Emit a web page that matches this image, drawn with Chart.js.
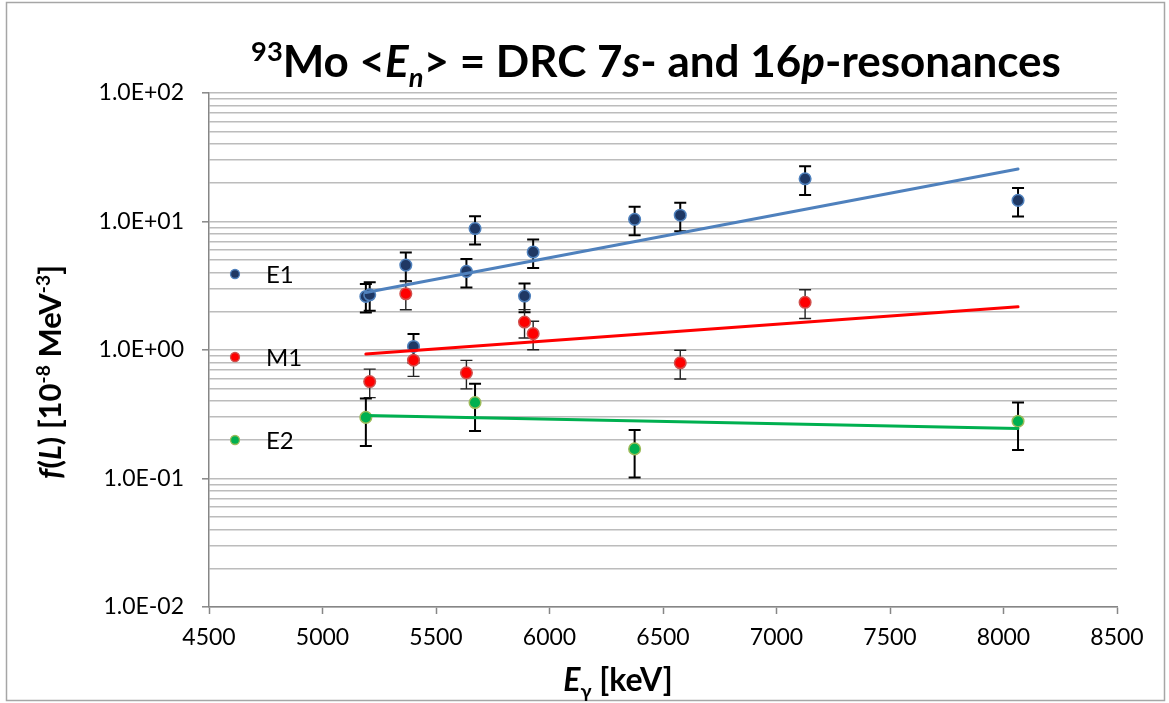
<!DOCTYPE html>
<html>
<head>
<meta charset="utf-8">
<script src="https://cdn.jsdelivr.net/npm/chart.js@4.4.1/dist/chart.umd.min.js"></script>
<style>
  html, body { margin: 0; padding: 0; background: #fff; overflow: hidden; }
  #wrap { position: relative; width: 1169px; height: 703px; }
</style>
</head>
<body>
<div id="wrap"><canvas id="c" width="1169" height="703"></canvas></div>
<script>
const FONT = 'Lato, "Open Sans", "DejaVu Sans", sans-serif';

// Strengths f(L) in 10^-8 MeV^-3 with absolute uncertainties, per multipolarity
const e1Energy   = [5191, 5208, 5367, 5401, 5634, 5672, 5890, 5928, 6375, 6576, 7126, 8064];
const e1Strength = [2.61, 2.69, 4.58, 1.065, 4.09, 8.81, 2.63, 5.79, 10.4, 11.2, 21.5, 14.6];
const e1Error    = [0.65, 0.67, 1.15, 0.27, 1.02, 2.2, 0.66, 1.45, 2.6, 2.8, 5.4, 3.65];

const m1Energy   = [5208, 5367, 5401, 5634, 5890, 5928, 6576, 7126];
const m1Strength = [0.568, 2.74, 0.833, 0.664, 1.65, 1.34, 0.795, 2.35];
const m1Error    = [0.142, 0.685, 0.21, 0.166, 0.41, 0.335, 0.2, 0.59];

const e2Energy   = [5191, 5672, 6375, 8064];
const e2Strength = [0.299, 0.39, 0.170, 0.279];
const e2Error    = [0.12, 0.156, 0.068, 0.112];

// Exponential trend lines (straight on the log axis): end points
const trendEnergy = [5191, 8064];
const e1Trend = [2.8, 25.6];
const m1Trend = [0.93, 2.17];
const e2Trend = [0.309, 0.245];

// Axis ticks
const xTicks = [4500, 5000, 5500, 6000, 6500, 7000, 7500, 8000, 8500];
const yDecades = [0.01, 0.1, 1, 10, 100];
const yDecadeLabels = ['1.0E-02', '1.0E-01', '1.0E+00', '1.0E+01', '1.0E+02'];
const yMinorSteps = [2, 3, 4, 5, 6, 7, 8, 9];

// Gridline values: every decade plus 2..9 within each decade
const yGrid = [];
yDecades.forEach((d, i) => {
  yGrid.push(d);
  if (i < yDecades.length - 1) yMinorSteps.forEach(m => yGrid.push(+(d * m).toPrecision(6)));
});
const decadeIndex = v => yDecades.findIndex(d => Math.abs(d - v) < d * 1e-9);

const pts = (xs, ys) => xs.map((x, i) => ({ x, y: ys[i] }));

// Vertical error bars with caps, drawn beneath the markers
const errorBars = {
  id: 'errorBars',
  beforeDatasetsDraw(chart) {
    const { ctx, scales: { x, y } } = chart;
    chart.data.datasets.forEach(ds => {
      if (!ds.errors) return;
      ctx.save();
      ctx.strokeStyle = ds.errorColor;
      ctx.lineWidth = ds.errorWidth;
      ds.data.forEach((p, j) => {
        const px = x.getPixelForValue(p.x);
        const top = y.getPixelForValue(p.y + ds.errors[j]);
        const bot = y.getPixelForValue(p.y - ds.errors[j]);
        ctx.beginPath();
        ctx.moveTo(px, top); ctx.lineTo(px, bot);
        ctx.moveTo(px - 6, top); ctx.lineTo(px + 6, top);
        ctx.moveTo(px - 6, bot); ctx.lineTo(px + 6, bot);
        ctx.stroke();
      });
      ctx.restore();
    });
  }
};

// Mixed-style bold text: italic runs, superscripts and subscripts
function drawRich(ctx, runs, size, cx, baseline, maxW) {
  const fontOf = r => `${r.i ? 'italic ' : ''}bold ${(r.sup || r.sub) ? size * 0.62 : size}px ${FONT}`;
  let w = 0;
  runs.forEach(r => { ctx.font = fontOf(r); r.w = ctx.measureText(r.t).width; w += r.w; });
  const sx = maxW && w > maxW ? maxW / w : 1;
  ctx.save();
  ctx.translate(cx, baseline);
  ctx.scale(sx, 1);
  ctx.textBaseline = 'alphabetic';
  ctx.textAlign = 'left';
  ctx.fillStyle = '#000';
  let x = -w / 2;
  runs.forEach(r => {
    ctx.font = fontOf(r);
    const dy = r.sup ? -size * 0.36 : r.sub ? size * 0.22 : 0;
    ctx.fillText(r.t, x, dy);
    x += r.w;
  });
  ctx.restore();
}

const titleRuns = [
  { t: '93', sup: true }, { t: 'Mo <' }, { t: 'E', i: true }, { t: 'n', i: true, sub: true },
  { t: '> = DRC 7' }, { t: 's', i: true }, { t: '- and 16' }, { t: 'p', i: true }, { t: '-resonances' }
];
const yTitleRuns = [
  { t: 'f', i: true }, { t: '(' }, { t: 'L', i: true }, { t: ') [10' }, { t: '-8', sup: true },
  { t: ' MeV' }, { t: '-3', sup: true }, { t: ']' }
];
const xTitleRuns = [{ t: 'E', i: true }, { t: 'γ', sub: true }, { t: ' [keV]' }];

const decorations = {
  id: 'decorations',
  afterDraw(chart) {
    const ctx = chart.ctx;
    // chart frame
    ctx.save();
    ctx.strokeStyle = '#A6A6A6';
    ctx.lineWidth = 1.5;
    ctx.strokeRect(6.5, 2.5, 1158, 698);
    ctx.restore();

    // titles
    drawRich(ctx, titleRuns, 44, 656, 77, 810);
    drawRich(ctx, xTitleRuns, 32, 618, 691);
    ctx.save();
    ctx.translate(50, 372);
    ctx.rotate(-Math.PI / 2);
    drawRich(ctx, yTitleRuns, 31, 0, 11, 240);
    ctx.restore();

    // legend for the measured series
    const legendY = [274, 357, 440];
    let k = 0;
    chart.data.datasets.forEach(ds => {
      if (ds.isTrend) return;
      const yy = legendY[k++];
      ctx.save();
      ctx.beginPath();
      ctx.arc(235, yy, 4.5, 0, Math.PI * 2);
      ctx.fillStyle = ds.backgroundColor;
      ctx.fill();
      ctx.lineWidth = 1.3;
      ctx.strokeStyle = ds.borderColor;
      ctx.stroke();
      ctx.font = `24px ${FONT}`;
      ctx.fillStyle = '#000';
      ctx.textBaseline = 'middle';
      ctx.textAlign = 'left';
      ctx.fillText(ds.label, 266, yy + 1);
      ctx.restore();
    });
  }
};

const marker = (label, xs, ys, errs, fill, border, errColor, errWidth, order) => ({
  label, data: pts(xs, ys), errors: errs, errorColor: errColor, errorWidth: errWidth,
  backgroundColor: fill, borderColor: border, borderWidth: 1.5,
  pointRadius: 5.8, pointHoverRadius: 5.8, showLine: false, order
});
const trend = (label, ys, color, order) => ({
  label, data: pts(trendEnergy, ys), isTrend: true, showLine: true,
  borderColor: color, borderWidth: 3, borderCapStyle: 'round',
  pointRadius: 0, pointHoverRadius: 0, fill: false, order
});

new Chart(document.getElementById('c'), {
  type: 'scatter',
  data: {
    datasets: [
      marker('E1', e1Energy, e1Strength, e1Error, '#1F3864', '#4F81BD', '#000', 2, 5),
      marker('M1', m1Energy, m1Strength, m1Error, '#FF0000', '#D0504D', '#222', 1.4, 4),
      marker('E2', e2Energy, e2Strength, e2Error, '#00B050', '#9BBB59', '#000', 2, 3),
      trend('E1 fit', e1Trend, '#4F81BD', 2),
      trend('M1 fit', m1Trend, '#FF0000', 1),
      trend('E2 fit', e2Trend, '#00B050', 0)
    ]
  },
  options: {
    responsive: false,
    animation: false,
    devicePixelRatio: 1,
    layout: { padding: { top: 93, right: 52, bottom: 0, left: 0 } },
    plugins: { legend: { display: false }, title: { display: false }, tooltip: { enabled: false } },
    scales: {
      x: {
        type: 'linear', min: 4500, max: 8500,
        afterBuildTicks: s => { s.ticks = xTicks.map(v => ({ value: v })); },
        afterFit: s => { s.height = 96; },
        grid: { drawOnChartArea: false, drawTicks: true, tickLength: 7, tickColor: '#868686', tickWidth: 1.5 },
        border: { color: '#868686', width: 1.5 },
        ticks: {
          font: { family: FONT, size: 23 }, color: '#000', padding: 10, maxRotation: 0, autoSkip: false,
          callback: v => String(v)
        }
      },
      y: {
        type: 'logarithmic', min: 0.01, max: 100,
        afterBuildTicks: s => { s.ticks = yGrid.map(v => ({ value: v })); },
        afterFit: s => { s.width = 209; },
        grid: {
          color: '#BCBCBC', lineWidth: 1.6, drawTicks: true, tickLength: 7, tickWidth: 1.5,
          tickColor: c => (c.tick && decadeIndex(c.tick.value) >= 0) ? '#868686' : 'rgba(0,0,0,0)'
        },
        border: { color: '#868686', width: 1.5 },
        ticks: {
          autoSkip: false, padding: 18, color: '#000', font: { family: FONT, size: 23 },
          callback: v => { const i = decadeIndex(v); return i >= 0 ? yDecadeLabels[i] : ''; }
        }
      }
    }
  },
  plugins: [errorBars, decorations]
});
</script>
</body>
</html>
